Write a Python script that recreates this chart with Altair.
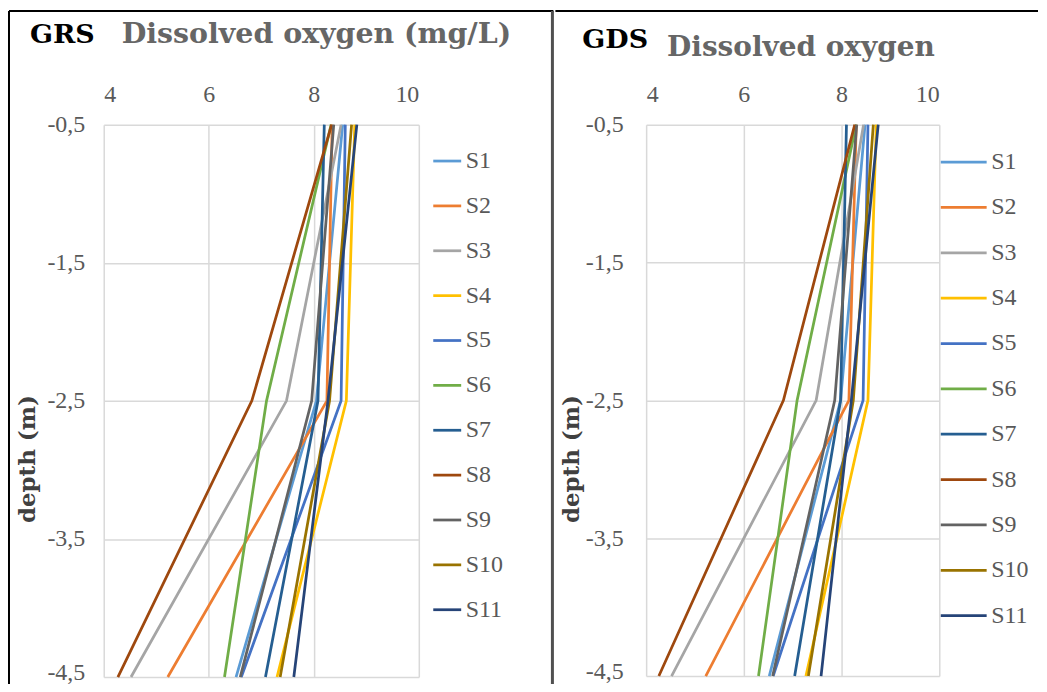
import altair as alt
import pandas as pd

# ---------------- data ----------------
depth_m = [-0.5, -2.5, -4.5]
stations = ["S1", "S2", "S3", "S4", "S5", "S6", "S7", "S8", "S9", "S10", "S11"]
station_colors = ["#5B9BD5", "#ED7D31", "#A5A5A5", "#FFC000", "#4472C4", "#70AD47",
                  "#255E91", "#9E480E", "#636363", "#997300", "#264478"]

x_ticks = [4, 6, 8, 10]
y_ticks = [-0.5, -1.5, -2.5, -3.5, -4.5]

# GRS dissolved oxygen (mg/L) at depths -0.5, -2.5, -4.5 m
grs_S1 = [8.55, 8.05, 6.52]
grs_S2 = [8.35, 8.25, 5.22]
grs_S3 = [8.52, 7.48, 4.52]
grs_S4 = [8.78, 8.62, 7.30]
grs_S5 = [8.60, 8.52, 6.62]
grs_S6 = [8.33, 7.10, 6.30]
grs_S7 = [8.20, 8.08, 7.08]
grs_S8 = [8.34, 6.82, 4.27]
grs_S9 = [8.38, 7.96, 6.60]
grs_S10 = [8.72, 8.30, 7.36]
grs_S11 = [8.82, 8.27, 7.62]

# GDS dissolved oxygen (mg/L)
gds_S1 = [8.48, 7.98, 6.52]
gds_S2 = [8.30, 8.15, 5.22]
gds_S3 = [8.45, 7.48, 4.52]
gds_S4 = [8.71, 8.54, 7.27]
gds_S5 = [8.54, 8.44, 6.60]
gds_S6 = [8.30, 7.09, 6.30]
gds_S7 = [8.10, 7.98, 7.04]
gds_S8 = [8.27, 6.81, 4.26]
gds_S9 = [8.31, 7.86, 6.59]
gds_S10 = [8.65, 8.24, 7.32]
gds_S11 = [8.75, 8.20, 7.58]

grs_series = [grs_S1, grs_S2, grs_S3, grs_S4, grs_S5, grs_S6, grs_S7, grs_S8, grs_S9, grs_S10, grs_S11]
gds_series = [gds_S1, gds_S2, gds_S3, gds_S4, gds_S5, gds_S6, gds_S7, gds_S8, gds_S9, gds_S10, gds_S11]


def long_table(series):
    rows = []
    for name, vals in zip(stations, series):
        for d, v in zip(depth_m, vals):
            rows.append({"station": name, "depth": d, "do": v})
    return pd.DataFrame(rows)


SERIF = "Liberation Serif"
TITLE_FONT = "DejaVu Serif"
GRAY = "#595959"
TITLE_GRAY = "#666666"
ONE = pd.DataFrame({"a": [0]})
BOTTOM = 565


def text_layer(txt, x, y, size, color, font=TITLE_FONT):
    return alt.Chart(pd.DataFrame({"t": [txt]})).mark_text(
        align="left", baseline="alphabetic", font=font, fontWeight="bold",
        fontSize=size, color=color
    ).encode(text="t:N", x=alt.value(x), y=alt.value(y))


def rule(x, y, x2=None, y2=None, color="black", width=2):
    enc = {"x": alt.value(x), "y": alt.value(y)}
    if x2 is not None:
        enc["x2"] = alt.value(x2)
    if y2 is not None:
        enc["y2"] = alt.value(y2)
    return alt.Chart(ONE).mark_rule(color=color, strokeWidth=width).encode(**enc)


def panel(series, width, height, label_pad, ytitle_x, legend_x, legend_y, sym_len, row_pad):
    df = long_table(series)
    return alt.Chart(df).mark_line(strokeWidth=2.75).encode(
        x=alt.X("do:Q",
                scale=alt.Scale(domain=[4, 10], nice=False, zero=False),
                axis=alt.Axis(orient="top", values=x_ticks, title=None, grid=True,
                              gridColor="#D9D9D9", gridWidth=1.5, domain=False,
                              ticks=False, tickSize=0, labelFont=SERIF, labelFontSize=24,
                              labelColor=GRAY, labelPadding=18)),
        y=alt.Y("depth:Q",
                scale=alt.Scale(domain=[-4.5, -0.5], nice=False, zero=False),
                axis=alt.Axis(values=y_ticks, title="depth (m)", grid=True,
                              gridColor="#D9D9D9", gridWidth=1.5, domain=False,
                              ticks=False, tickSize=0, labelFont=SERIF, labelFontSize=24,
                              labelColor=GRAY, labelPadding=label_pad,
                              labelOffset=alt.condition("datum.value < -4", alt.value(-5), alt.value(0)),
                              labelExpr="'-' + replace(format(abs(datum.value), '.1f'), '.', ',')",
                              titleFont=TITLE_FONT, titleFontSize=23, titleFontWeight="bold",
                              titleColor="#404040", titleAngle=270, titleX=ytitle_x,
                              titleY=335, titleAlign="center", titleBaseline="middle")),
        color=alt.Color("station:N",
                        scale=alt.Scale(domain=stations, range=station_colors),
                        legend=alt.Legend(orient="none", legendX=legend_x, legendY=legend_y,
                                          title=None, symbolType="stroke",
                                          symbolSize=sym_len * sym_len,
                                          symbolStrokeWidth=2.75, labelFont=SERIF,
                                          labelFontSize=24, labelColor=GRAY,
                                          labelOffset=3, rowPadding=row_pad, padding=0)),
        order=alt.Order("depth:Q"),
    ).properties(width=width, height=height)


left_lines = panel(grs_series, 316, 554, 19, -76, 329, 21, 28, 17)
right_lines = panel(gds_series, 294, 553, 23, -75, 294, 13, 46, 8.5)

left = alt.layer(
    left_lines,
    text_layer("GRS", -74, -82, 27, "black"),
    text_layer("Dissolved oxygen (mg/L)", 18, -82, 28.5, TITLE_GRAY),
    rule(-95, -114, x2=451, width=2),
    rule(-95, -114, y2=BOTTOM, width=2),
    rule(450, -114, y2=BOTTOM, color="#505050", width=3),
).resolve_scale(color="independent")

right = alt.layer(
    right_lines,
    text_layer("GDS", -64, -77, 27, "black"),
    text_layer("Dissolved oxygen", 21, -69, 28, TITLE_GRAY),
    rule(-88.5, -114, y2=BOTTOM, color="white", width=1),
    rule(-91, -114, x2=393, width=2),
).resolve_scale(color="independent")

chart = alt.hconcat(left, right, spacing=0).resolve_scale(color="independent").properties(
    padding={"left": 0, "top": 0, "right": 0, "bottom": -7}
).configure_view(strokeWidth=0)

chart.save("out.html", embed_options={"renderer": "svg", "actions": False})
